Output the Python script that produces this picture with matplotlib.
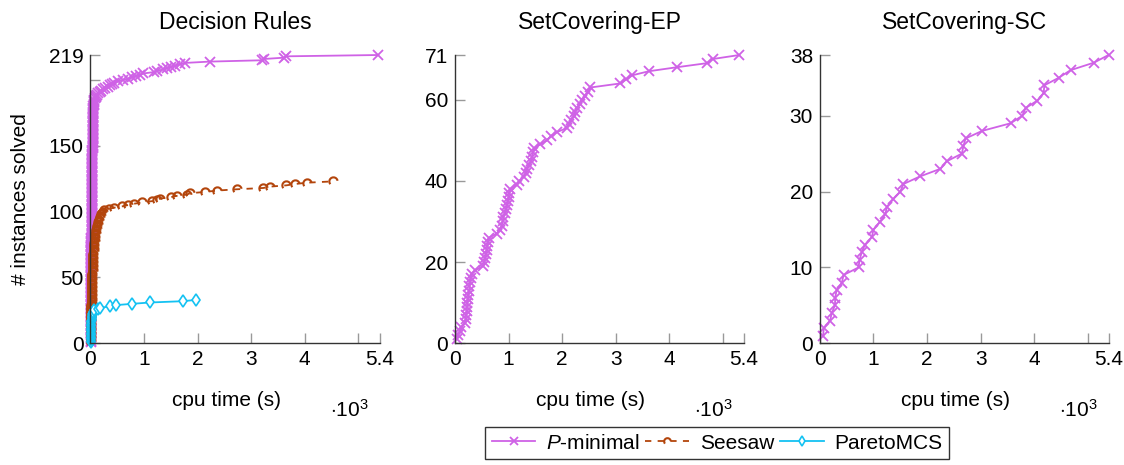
import numpy as np
import matplotlib
matplotlib.use('Agg')
import matplotlib.pyplot as plt
from matplotlib.path import Path

plt.rcParams['font.family'] = ['Liberation Sans', 'DejaVu Sans']
plt.rcParams['mathtext.fontset'] = 'custom'
plt.rcParams['mathtext.rm'] = 'Liberation Sans'
plt.rcParams['mathtext.it'] = 'Liberation Sans:italic'

# solve times in seconds (sorted), one entry per solved instance
dr_pmin = [
    0.5, 0.8, 1, 1, 1.2, 1.5, 1.8, 2, 2, 2.3, 2.5, 2.8, 3, 3, 3.2, 3.5, 3.8, 4, 4, 4.3,
    4.5, 4.8, 5, 5, 5.3, 5.5, 5.8, 6, 6.2, 6.5, 6.8, 7, 7.2, 7.5, 7.8, 8, 8.3, 8.5, 8.8, 9,
    9.2, 9.5, 9.8, 10, 10.3, 10.5, 10.8, 11, 11.3, 11.5, 11.8, 12, 12.3, 12.5, 12.8, 13, 13.3, 13.5, 13.8, 14,
    14.3, 14.5, 14.8, 15, 15.3, 15.5, 15.8, 16, 16.3, 16.5, 16.8, 17, 17.3, 17.5, 17.8, 18, 18.3, 18.5, 18.8, 19,
    19.2, 19.5, 19.8, 20, 20.3, 20.5, 20.8, 21, 21.3, 21.5, 21.8, 22, 22.3, 22.5, 22.8, 23, 23.3, 23.5, 23.8, 24,
    24.3, 24.5, 24.8, 25, 25.3, 25.5, 25.8, 26, 26.3, 26.5, 26.8, 27, 27.3, 27.5, 27.8, 28, 28.3, 28.5, 28.8, 29,
    29.3, 29.5, 29.8, 30, 30.3, 30.6, 31, 31.3, 31.6, 32, 32.3, 32.6, 33, 33.3, 33.6, 34, 34.3, 34.6, 35, 35.3,
    35.6, 36, 36.3, 36.6, 37, 37.3, 37.6, 38, 38.4, 38.8, 39.2, 39.6, 40, 40.4, 40.8, 41.2, 41.6, 42, 42.5, 43,
    43.5, 44, 44.5, 45, 45.5, 46, 46.5, 47, 47.5, 48, 48.5, 49, 49.5, 50, 51, 52, 53, 54, 55, 56,
    58, 60, 63, 67, 72, 80, 95, 110, 125, 140,
    170, 200, 240, 280, 320, 360, 400, 440,
    520, 600, 700, 780, 850, 920, 990, 1180, 1250, 1350, 1420, 1500, 1580, 1680, 1770, 2230,
    3200, 3250, 3620, 3650, 5370,
]
dr_seesaw = [
    0.5, 1, 1.5, 2, 3, 3.5, 4, 5, 5.5, 6, 7, 7.5, 8, 9, 9.5, 10, 11, 11.5, 12, 13,
    13.5, 14, 15, 15.5, 16, 17, 17.5, 18, 19, 19.5, 20, 21, 21.5, 22, 23, 23.5, 24, 25, 25.5, 26,
    27, 27.5, 28, 29, 29.5, 30, 31, 32, 33, 34, 35, 36, 37, 38, 39, 40, 41, 42, 43, 44,
    45, 46, 47, 48, 50, 52, 54, 56, 58, 60, 62, 64, 66, 68, 70, 73, 76, 79, 82, 85,
    88, 92, 96, 100, 105, 110, 115, 120, 126, 132, 138, 145, 152, 160, 170, 180, 190, 205, 220, 240,
    260, 350, 430, 590, 700, 810, 960, 1150, 1250, 1300, 1500, 1610, 1800, 1860, 2140, 2360,
    2730, 3230, 3350, 3660, 3820, 4040, 4530,
]
dr_pareto = [
    0.5, 1, 1.5, 2, 2.5, 3, 4, 5, 6, 7, 8, 9, 10, 12, 14, 16, 18, 20, 23, 26,
    30, 35, 40, 50, 65, 140, 180, 360, 470, 780, 1110, 1730, 1970,
]
ep_pmin = [
    30, 60, 90, 120, 190, 200, 210, 220, 225, 230, 240, 250, 260, 270, 280, 290, 310, 370,
    530, 550, 565, 580, 590, 605, 615, 630, 780, 840, 870, 890, 905, 930, 950, 970, 985,
    1000, 1015, 1030, 1150, 1200, 1280, 1320, 1340, 1380, 1420, 1440, 1460, 1480, 1590,
    1720, 1800, 1900, 2090, 2130, 2160, 2220, 2250, 2280, 2330, 2370, 2430, 2480, 2530,
    3090, 3200, 3310, 3620, 4150, 4710, 4810, 5310,
]
sc_pmin = [
    60, 70, 190, 220, 280, 285, 310, 410, 440, 720, 740, 780, 840, 970, 1000, 1120, 1220,
    1250, 1370, 1500, 1560, 1870, 2250, 2370, 2650, 2680, 2720, 3030, 3560, 3780, 3840,
    4060, 4180, 4190, 4460, 4680, 5120, 5390,
]

titles = ['Decision Rules', 'SetCovering-EP', 'SetCovering-SC']
yticks = [[0, 50, 100, 150, 200, 219], [0, 20, 40, 60, 71], [0, 10, 20, 30, 38]]
ytick_labels = [['0', '50', '100', '150', '', '219'], ['0', '20', '40', '60', '71'],
                ['0', '10', '20', '30', '38']]
xticks = [0, 1000, 2000, 3000, 4000, 5000, 5400]
xtick_labels = ['0', '1', '2', '3', '4', '', '5.4']

c_pmin = '#cf62e6'
c_seesaw = '#b3450c'
c_pareto = '#14c2f2'
seesaw_mark = Path.arc(10, 220)

fig = plt.figure(figsize=(11.24, 4.65), dpi=100)
lefts = [0.0805, 0.4048, 0.7295]
axes = [fig.add_axes([l, 0.2617, 0.2572, 0.62]) for l in lefts]


def cactus(ax, times, **kw):
    t = np.array(times, dtype=float)
    n = np.arange(1, len(t) + 1)
    return ax.plot(t, n, clip_on=False, **kw)[0]


pmin_kw = dict(color=c_pmin, marker='x', markersize=7, markeredgewidth=1.3, lw=1.3,
               label='$P$-minimal')
h1 = cactus(axes[0], dr_pmin, **pmin_kw)
h2 = cactus(axes[0], dr_seesaw, color=c_seesaw, marker=seesaw_mark, markersize=6,
            markeredgewidth=1.5, markerfacecolor='none', lw=1.3, ls=(0, (3.5, 3.5)),
            label='Seesaw')
h3 = cactus(axes[0], dr_pareto, color=c_pareto, marker='d', markersize=6.5,
            markerfacecolor='white', markeredgewidth=1.2, lw=1.3, label='ParetoMCS')
cactus(axes[1], ep_pmin, **pmin_kw)
cactus(axes[2], sc_pmin, **pmin_kw)

for i, ax in enumerate(axes):
    ax.set_xlim(0, 5400)
    ax.set_ylim(0, yticks[i][-1])
    ax.set_xticks(xticks)
    ax.set_xticklabels(xtick_labels)
    ax.set_yticks(yticks[i])
    ax.set_yticklabels(ytick_labels[i])
    for s in ['top', 'right']:
        ax.spines[s].set_visible(False)
    for s in ['left', 'bottom']:
        ax.spines[s].set_color('#333333')
        ax.spines[s].set_linewidth(1.0)
    ax.tick_params(direction='in', length=7, width=1, color='#999999',
                   labelsize=15, pad=5)
    ax.set_title(titles[i], fontsize=16.5, pad=19)
    ax.set_xlabel('cpu time (s)', fontsize=15)
    ax.xaxis.set_label_coords(0.47, -0.165)
    ax.text(0.895, -0.23, r'$\cdot10^3$', transform=ax.transAxes, fontsize=15,
            ha='center', va='center')

axes[0].set_ylabel('# instances solved', fontsize=15)
axes[0].yaxis.set_label_coords(-0.21, 0.5)

leg = fig.legend(handles=[h1, h2, h3], loc='center', bbox_to_anchor=(0.638, 0.047),
                 ncol=3, fontsize=15, frameon=True, fancybox=False, handlelength=2.1,
                 handletextpad=0.5, columnspacing=0.3, borderpad=0.3,
                 borderaxespad=0, markerscale=0.8)
leg.get_frame().set_edgecolor('black')
leg.get_frame().set_linewidth(1.0)

fig.savefig('out.png', dpi=100)
